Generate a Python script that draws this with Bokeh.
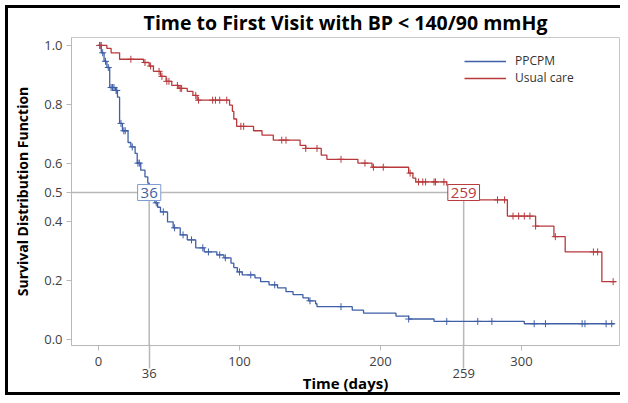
import numpy as np
from bokeh.plotting import figure
from bokeh.models import (Range1d, LinearAxis, FixedTicker, NumeralTickFormatter,
                          Label, Legend, LegendItem)
from bokeh.embed import file_html
from bokeh.resources import INLINE

# ---- data ----
ppcpm_t = [0, 2, 4, 6, 8, 12, 13.5, 15, 17, 21, 23, 26, 27.5, 30, 33, 35, 36, 40, 42, 44,
           49, 53, 58, 63, 69, 75, 84, 89, 94, 96, 98.5, 102, 111, 115, 121, 127, 133, 138,
           145, 149, 154, 155, 180, 188, 211, 220, 238, 302, 366]
ppcpm_s = [1.0, 0.975, 0.946, 0.925, 0.857, 0.847, 0.824, 0.735, 0.71, 0.67, 0.655, 0.633,
           0.60, 0.576, 0.553, 0.532, 0.49, 0.465, 0.45, 0.434, 0.40, 0.38, 0.356, 0.339,
           0.312, 0.298, 0.288, 0.278, 0.26, 0.245, 0.23, 0.22, 0.21, 0.197, 0.186, 0.176,
           0.163, 0.153, 0.142, 0.132, 0.122, 0.112, 0.10, 0.09, 0.08, 0.07, 0.062, 0.054, 0.054]
ppcpm_censor = [1, 3, 5, 7, 9, 10, 11, 12.5, 13, 16, 18, 19, 24, 28, 29, 37, 41, 46, 54, 60,
                66, 74, 78, 86, 90, 100, 108, 125, 150, 172, 220, 247, 269, 279, 309, 317,
                343, 345, 360, 364]

usual_t = [0, 6, 9, 15, 32, 36, 39, 44, 48, 52, 57, 63, 67, 70, 93, 95, 96, 98, 110, 116,
           124, 143, 147, 158, 162, 184, 194, 220, 223, 225, 247, 259, 290, 310, 323, 331,
           357, 367]
usual_s = [1.0, 0.99, 0.975, 0.953, 0.942, 0.93, 0.912, 0.895, 0.878, 0.864, 0.854, 0.844,
           0.83, 0.814, 0.797, 0.776, 0.75, 0.725, 0.71, 0.695, 0.678, 0.66, 0.65, 0.627,
           0.613, 0.60, 0.586, 0.566, 0.549, 0.536, 0.525, 0.475, 0.42, 0.386, 0.35, 0.298,
           0.197, 0.197]
usual_censor = [1, 2, 23, 33, 37, 43, 45, 48.5, 50, 56, 58, 59, 69, 71, 81, 83, 86, 91, 101,
                103, 130, 133, 147, 155, 172, 189, 195, 202, 221, 227, 230, 232, 238, 239,
                245, 283, 288, 294, 298, 302, 306, 310, 324, 351, 354, 365]

medians = [36, 259]
median_labels = ["36", "259"]
x_ticks = [0, 100, 200, 300]
y_ticks = [0.0, 0.2, 0.4, 0.5, 0.6, 0.8, 1.0]

BLUE = "#3f5fa6"
RED = "#b8393c"
GRAY = "#b8b8b8"
FONT = "Open Sans"


def step_value(t, s, c):
    idx = np.searchsorted(np.asarray(t), np.asarray(c), side="right") - 1
    return np.asarray(s)[idx]


p = figure(width=620, height=395, output_backend="svg", toolbar_location=None,
           x_range=Range1d(-19.1, 369.5), y_range=Range1d(-0.02, 1.027),
           min_border_left=71, min_border_right=1, min_border_top=37, min_border_bottom=49,
           x_axis_location=None, y_axis_location=None)
p.border_fill_color = None
p.styles = {
    "background": ("linear-gradient(#000,#000) 5px 5px / 3px calc(100% - 5px) no-repeat, "
                   "linear-gradient(#000,#000) 5px 5px / calc(100% - 5px) 3px no-repeat, "
                   "linear-gradient(#000,#000) 5px 100% / calc(100% - 5px) 3px no-repeat, "
                   "white")
}
p.grid.visible = False
p.outline_line_color = "#c8c8c8"

p.title.text = "Time to First Visit with BP < 140/90 mmHg"
p.title.align = "center"
p.title.text_font = FONT
p.title.text_font_size = "19.5px"
p.title.text_font_style = "bold"
p.title.text_color = "black"
p.title.standoff = 3

# y axis
yaxis = LinearAxis(ticker=FixedTicker(ticks=y_ticks), formatter=NumeralTickFormatter(format="0.0"),
                   axis_label="Survival Distribution Function")
yaxis.axis_label_text_font = FONT
yaxis.axis_label_text_font_size = "14px"
yaxis.axis_label_text_font_style = "bold"
yaxis.axis_label_text_color = "black"
yaxis.axis_label_standoff = 9
yaxis.major_label_text_font = FONT
yaxis.major_label_text_font_size = "13px"
yaxis.major_label_text_color = "#404040"
yaxis.major_label_standoff = 4
yaxis.axis_line_color = GRAY
yaxis.major_tick_line_color = GRAY
yaxis.major_tick_out = 5
yaxis.major_tick_in = 0
yaxis.minor_tick_line_color = None
p.add_layout(yaxis, "left")

# x axis (main ticks)
xaxis = LinearAxis(ticker=FixedTicker(ticks=x_ticks))
xaxis.major_label_text_font = FONT
xaxis.major_label_text_font_size = "13px"
xaxis.major_label_text_color = "#404040"
xaxis.major_label_standoff = 6
xaxis.axis_line_color = GRAY
xaxis.major_tick_line_color = GRAY
xaxis.major_tick_out = 5
xaxis.major_tick_in = 0
xaxis.minor_tick_line_color = None
p.add_layout(xaxis, "below")

# x axis (median ticks, lower row)
xaxis2 = LinearAxis(ticker=FixedTicker(ticks=medians), axis_label="Time (days)")
xaxis2.axis_line_color = None
xaxis2.major_tick_line_color = GRAY
xaxis2.major_tick_line_width = 1.5
xaxis2.major_tick_out = 0
xaxis2.major_tick_in = 24
xaxis2.minor_tick_line_color = None
xaxis2.major_label_text_font = FONT
xaxis2.major_label_text_font_size = "13px"
xaxis2.major_label_text_color = "#404040"
xaxis2.major_label_standoff = 0
xaxis2.axis_label_text_font = FONT
xaxis2.axis_label_text_font_size = "15px"
xaxis2.axis_label_text_font_style = "bold"
xaxis2.axis_label_text_color = "black"
xaxis2.axis_label_standoff = -8
p.add_layout(xaxis2, "below")

# reference lines at S = 0.5
x0 = p.x_range.start
y0 = p.y_range.start
p.segment(x0=[x0], y0=[0.5], x1=[medians[1]], y1=[0.5], line_color=GRAY, line_width=1.5)
p.segment(x0=medians, y0=[y0, y0], x1=medians, y1=[0.5, 0.5], line_color=GRAY, line_width=1.5)

# survival curves
r_blue = p.step(ppcpm_t, ppcpm_s, mode="after", line_color=BLUE, line_width=1.3)
r_red = p.step(usual_t, usual_s, mode="after", line_color=RED, line_width=1.3)

p.scatter(ppcpm_censor, step_value(ppcpm_t, ppcpm_s, ppcpm_censor), marker="cross",
          size=7, line_color=BLUE, line_width=1)
p.scatter(usual_censor, step_value(usual_t, usual_s, usual_censor), marker="cross",
          size=7, line_color=RED, line_width=1)

# boxed median labels
for m, lab, col, bcol in zip(medians, median_labels, [BLUE, RED], ["#7f9bd0", RED]):
    p.add_layout(Label(x=m, y=0.5, text=lab, text_align="center", text_baseline="middle",
                       text_font=FONT, text_font_size="15px", text_color=col,
                       background_fill_color="white", border_line_color=bcol,
                       border_line_width=1, padding=3))

legend = Legend(items=[LegendItem(label="PPCPM", renderers=[r_blue]),
                       LegendItem(label="Usual care", renderers=[r_red])],
                location=(393, 259), padding=0, margin=0, spacing=0,
                glyph_width=42, glyph_height=16, label_height=16, label_standoff=9,
                label_text_font=FONT, label_text_font_size="12px", label_text_color="#333333",
                border_line_color=None, background_fill_alpha=0)
p.add_layout(legend, "center")

open("out.html", "w").write(file_html(p, INLINE))
